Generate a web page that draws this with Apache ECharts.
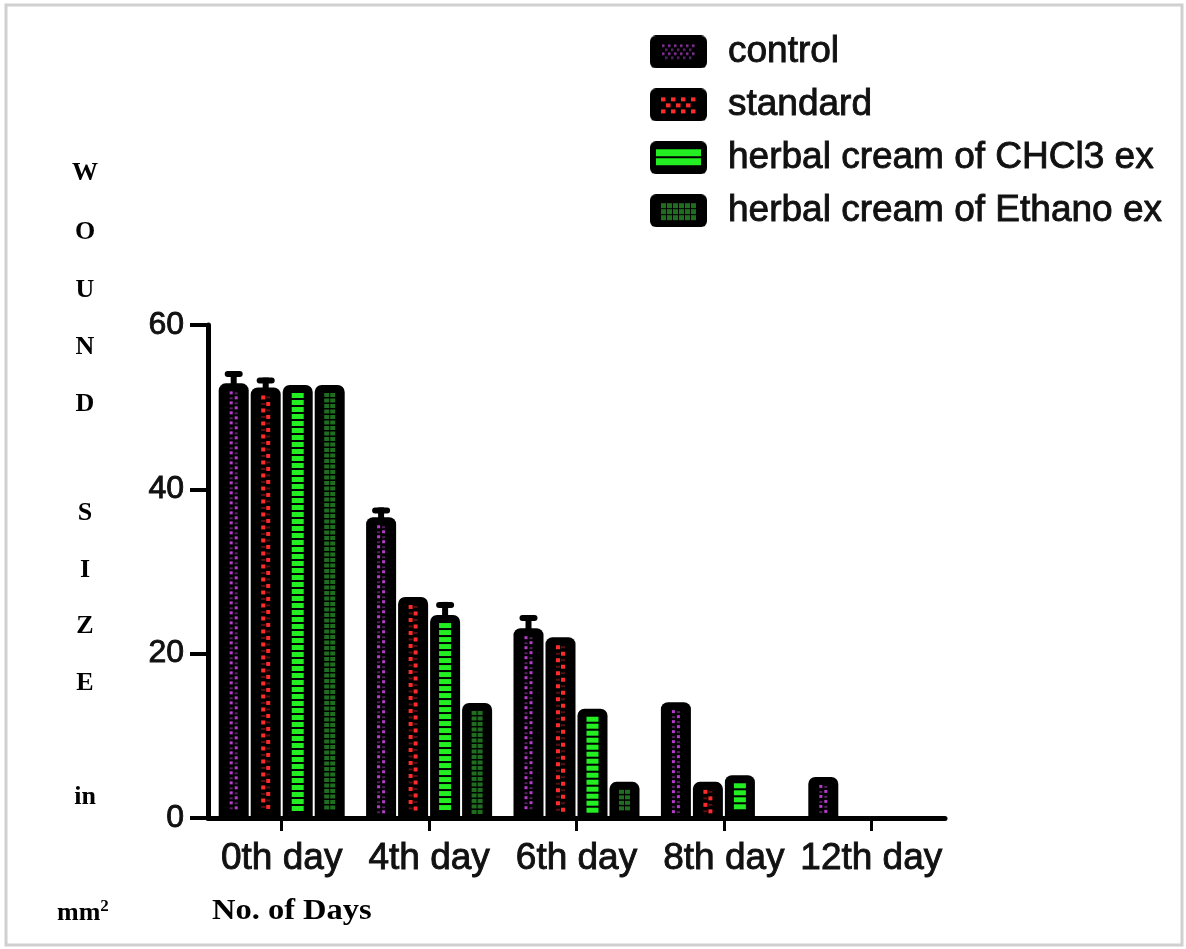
<!DOCTYPE html>
<html><head><meta charset="utf-8">
<script src="https://cdn.jsdelivr.net/npm/echarts@6/dist/echarts.min.js"></script>
<style>html,body{margin:0;padding:0;background:#fff}#c{width:1186px;height:949px}</style>
</head><body><div id="c"></div>
<script>
// ---------------- data ----------------
const categories = ['0th day', '4th day', '6th day', '8th day', '12th day'];
const seriesNames = ['control', 'standard', 'herbal cream of CHCl3 ex', 'herbal cream of Ethano ex'];
const control  = [52.9, 36.6, 23.1, 14.1, 5.0];
const standard = [52.4, 26.9, 22.0, 4.4, 0];
const chcl3    = [52.7, 24.7, 13.3, 5.2, 0];
const ethanol  = [52.7, 14.0, 4.4, 0, 0];
const controlErr  = [1.5, 1.2, 1.6, 0, 0];
const standardErr = [1.2, 0, 0, 0, 0];
const chcl3Err    = [0, 1.6, 0, 0, 0];
const ethanolErr  = [0, 0, 0, 0, 0];
const yTicks = [0, 20, 40, 60];
const yTitleLetters = ['W', 'O', 'U', 'N', 'D', 'S', 'I', 'Z', 'E', 'in'];
const yTitleUnit = 'mm';
const yTitleUnitSup = '2';
const xTitle = 'No. of Days';

// ---------------- style / layout ----------------
const values = [control, standard, chcl3, ethanol];
const errors = [controlErr, standardErr, chcl3Err, ethanolErr];
const kinds = ['control', 'standard', 'chcl3', 'ethanol'];
const BAR_W = 30, BAR_GAP = 2;
const AXIS_FONT = 'Liberation Sans';
const SERIF = 'Liberation Serif';
const TXT = '#111';

function offsetOf(i) { return (i - 1.5) * (BAR_W + BAR_GAP); }

function patternRects(kind, xc, y0, y1) {
  const out = [];
  const R = (x, y, w, h, c) => out.push({ type: 'rect', shape: { x, y, width: w, height: h }, style: { fill: c } });
  if (kind === 'control') {
    for (let y = y0, k = 0; y + 3 <= y1; y += 5, k++) {
      R(xc + (k % 2 ? 1 : -4), y, 3, 3, '#b83ccc');
      R(xc + (k % 2 ? -4 : 1), y + 1, 3, 2, '#55205f');
    }
  } else if (kind === 'standard') {
    for (let y = y0, k = 0; y + 4 <= y1; y += 6.5, k++) {
      R(xc + (k % 2 ? 0.5 : -4.5), y, 4, 4, '#ff2a2a');
      R(xc + (k % 2 ? -4.5 : 0.5), y + 1, 4, 2, '#5a1010');
    }
  } else if (kind === 'chcl3') {
    for (let y = y0; y + 5 <= y1; y += 7) R(xc - 6, y, 12, 5, '#22ee22');
  } else {
    for (let y = y0; y + 4 <= y1; y += 5.5) {
      R(xc - 5.5, y, 5, 4, '#1f6e1f');
      R(xc + 0.5, y, 5, 4, '#1f6e1f');
    }
  }
  return out;
}

function patternRenderer(si) {
  return function (params, api) {
    const v = api.value(1);
    if (!v) return null;
    const base = api.coord([api.value(0), 0]);
    const top = api.coord([api.value(0), v]);
    const xc = base[0] + offsetOf(si);
    return { type: 'group', children: patternRects(kinds[si], xc, top[1] + 8, base[1] - 4) };
  };
}

function errRenderer(params, api) {
  const ci = api.value(0), v = api.value(1), e = api.value(2), si = api.value(3);
  if (!e) return null;
  const p0 = api.coord([ci, v]), p1 = api.coord([ci, v + e]);
  const xc = p0[0] + offsetOf(si);
  return { type: 'group', children: [
    { type: 'rect', shape: { x: xc - 3, y: p1[1], width: 6, height: p0[1] - p1[1] + 3 }, style: { fill: '#000' } },
    { type: 'rect', shape: { x: xc - 9, y: p1[1], width: 18, height: 6, r: 3 }, style: { fill: '#000' } }
  ] };
}

function makeIcon(kind) {
  const w = 57, h = 33;
  const cv = document.createElement('canvas');
  cv.width = w; cv.height = h;
  const g = cv.getContext('2d');
  g.fillStyle = '#000';
  g.beginPath();
  if (g.roundRect) g.roundRect(0, 0, w, h, 6); else g.rect(0, 0, w, h);
  g.fill();
  if (kind === 'control') {
    for (let y = 9, r = 0; y <= 22; y += 4, r++)
      for (let x = 12 + (r % 2) * 3; x <= 43; x += 6) { g.fillStyle = r % 2 ? '#5c2470' : '#8a30a0'; g.fillRect(x, y, 2.5, 2.5); }
  } else if (kind === 'standard') {
    for (let y = 9, r = 0; y <= 22; y += 6, r++)
      for (let x = 11 + (r % 2) * 5; x <= 44; x += 10) { g.fillStyle = '#ff2a2a'; g.fillRect(x, y, 4.5, 4); }
  } else if (kind === 'chcl3') {
    g.fillStyle = '#22ee22'; g.fillRect(6, 8, 45, 7); g.fillRect(6, 17, 45, 7);
  } else {
    g.fillStyle = '#1f6e1f';
    for (let y = 9; y <= 21; y += 6) for (let x = 11; x <= 42; x += 6) g.fillRect(x, y, 5, 5);
  }
  return 'image://' + cv.toDataURL();
}

const barSeries = seriesNames.map((name, i) => ({
  name, type: 'bar', data: values[i], barWidth: BAR_W, barGap: (BAR_GAP / BAR_W * 100) + '%',
  itemStyle: { color: '#000', borderRadius: [7, 7, 0, 0] }, z: 2, silent: true
}));
const patternSeries = values.map((vals, i) => ({
  type: 'custom', renderItem: patternRenderer(i), data: vals.map((v, c) => [c, v]),
  encode: { x: 0, y: 1 }, z: 3, silent: true
}));
const errData = [];
values.forEach((vals, s) => vals.forEach((v, c) => errData.push([c, v, errors[s][c], s])));
const errSeries = { type: 'custom', renderItem: errRenderer, data: errData, encode: { x: 0, y: 1 }, z: 4, silent: true };

const letterY = [173, 232, 290, 347, 404, 513, 570, 626, 683, 797];
const graphics = [
  { type: 'rect', z: 100, silent: true, shape: { x: 6, y: 5, width: 1176, height: 940 },
    style: { fill: 'none', stroke: '#d0d0d0', lineWidth: 3 } }
];
yTitleLetters.forEach((t, i) => graphics.push({
  type: 'text', x: 85, y: letterY[i], silent: true,
  style: { text: t, font: 'bold 26px "' + SERIF + '"', fill: '#000', align: 'center', verticalAlign: 'middle' }
}));
graphics.push({
  type: 'text', x: 57, y: 913, silent: true,
  style: { text: '{a|' + yTitleUnit + '}{s|' + yTitleUnitSup + '}', align: 'left', verticalAlign: 'middle',
    rich: { a: { font: 'bold 26px "' + SERIF + '"', fill: '#000' },
            s: { font: 'bold 17px "' + SERIF + '"', fill: '#000', padding: [0, 0, 12, 0] } } }
});
graphics.push({
  type: 'text', x: 212, y: 912, scaleX: 1.12, silent: true,
  style: { text: xTitle, font: 'bold 29px "' + SERIF + '"', fill: '#000', align: 'left', verticalAlign: 'middle' }
});

const thick = { textBorderColor: TXT, textBorderWidth: 0.9 };

const option = {
  backgroundColor: '#fff',
  animation: false,
  grid: { left: 208, right: 241, top: 325, bottom: 131, containLabel: false },
  legend: {
    orient: 'vertical', left: 650, top: 33, padding: 0,
    itemWidth: 57, itemHeight: 33, itemGap: 15,
    data: seriesNames.map((n, i) => ({ name: n, icon: makeIcon(kinds[i]) })),
    textStyle: Object.assign({ fontFamily: AXIS_FONT, fontSize: 37, color: TXT, padding: [0, 0, 0, 16] }, thick),
    selectedMode: false
  },
  xAxis: {
    type: 'category', data: categories, boundaryGap: true,
    axisLine: { show: true, lineStyle: { color: '#000', width: 5 } },
    axisTick: { show: true, alignWithLabel: true, length: 13, lineStyle: { color: '#000', width: 3 } },
    axisLabel: Object.assign({ fontFamily: AXIS_FONT, fontSize: 37, color: TXT, margin: 22, interval: 0 }, thick),
    splitLine: { show: false }
  },
  yAxis: {
    type: 'value', min: yTicks[0], max: yTicks[yTicks.length - 1], interval: yTicks[1] - yTicks[0],
    axisLine: { show: true, lineStyle: { color: '#000', width: 5 } },
    axisTick: { show: true, length: 18, lineStyle: { color: '#000', width: 4 } },
    axisLabel: Object.assign({ fontFamily: AXIS_FONT, fontSize: 32, color: TXT, margin: 24 }, thick),
    splitLine: { show: false }
  },
  graphic: graphics,
  series: [...barSeries, ...patternSeries, errSeries]
};

const chart = echarts.init(document.getElementById('c'), null, { renderer: 'canvas' });
chart.setOption(option);
</script>
</body></html>
